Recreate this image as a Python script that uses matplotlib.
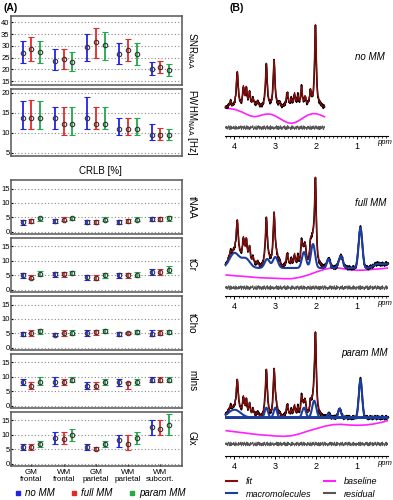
import numpy as np
import matplotlib
matplotlib.use("Agg")
import matplotlib.pyplot as plt
from matplotlib.lines import Line2D

plt.rcParams['font.family'] = ['Liberation Sans', 'DejaVu Sans']

# ---- panel (A): quality measures and CRLBs ----
GROUPS = ['GM\nfrontal', 'WM\nfrontal', 'GM\nparietal', 'WM\nparietal', 'WM\nsubcort.']
SERIES = ['no MM', 'full MM', 'param MM']
COLORS = ['#2323e6', '#e62828', '#23a84a']

# rows: no MM, full MM, param MM ; columns: regions
SNR_MEAN = [[27.1, 23.6, 29.4, 26.6, 20.0], [28.6, 24.3, 31.7, 28.1, 20.9], [27.4, 23.0, 30.4, 26.6, 19.7]]
SNR_LO = [[22.6, 19.7, 23.4, 22.1, 17.4], [23.7, 20.1, 25.0, 23.4, 18.6], [22.6, 19.3, 23.9, 22.0, 17.1]]
SNR_HI = [[31.9, 28.7, 34.9, 31.1, 23.3], [33.6, 28.7, 37.6, 32.9, 23.7], [32.1, 27.3, 35.7, 31.0, 22.3]]

FWHM_MEAN = [[13.7, 13.7, 13.7, 11.0, 9.5], [13.7, 12.3, 12.3, 11.0, 9.5], [13.7, 12.3, 12.3, 11.0, 9.5]]
FWHM_LO = [[10.9, 10.9, 10.9, 9.4, 8.2], [10.9, 9.4, 10.9, 9.4, 8.2], [10.9, 9.4, 10.9, 9.4, 8.2]]
FWHM_HI = [[18.1, 16.5, 19.1, 13.7, 12.2], [18.2, 16.5, 16.5, 13.7, 11.1], [18.1, 16.5, 16.5, 13.7, 11.0]]

TNAA_MEAN = [[3.3, 3.7, 3.3, 3.3, 4.3], [3.7, 4.2, 3.3, 3.7, 4.4], [4.7, 4.8, 4.2, 4.2, 4.7]]
TNAA_LO = [[2.5, 2.9, 2.7, 2.7, 3.6], [2.9, 3.6, 2.7, 2.9, 3.8], [3.8, 4.0, 3.6, 3.6, 3.8]]
TNAA_HI = [[4.0, 4.3, 4.0, 4.0, 5.0], [4.3, 5.0, 4.0, 4.3, 5.0], [5.2, 5.2, 5.0, 5.0, 5.4]]

TCR_MEAN = [[4.9, 5.3, 4.3, 4.9, 6.1], [4.2, 5.3, 4.2, 4.9, 6.0], [5.5, 5.9, 5.0, 5.2, 6.9]]
TCR_LO = [[4.1, 4.4, 3.5, 4.1, 5.1], [3.6, 4.4, 3.5, 4.1, 5.0], [4.7, 5.2, 4.1, 4.3, 5.9]]
TCR_HI = [[5.7, 6.1, 5.0, 5.7, 7.2], [5.2, 6.0, 5.0, 5.7, 7.0], [6.4, 6.5, 5.9, 6.0, 8.0]]

TCHO_MEAN = [[4.8, 4.5, 5.0, 4.9, 4.9], [5.0, 5.0, 5.3, 5.0, 5.2], [5.7, 5.2, 5.9, 5.5, 5.6]]
TCHO_LO = [[4.0, 4.1, 4.0, 4.0, 4.0], [4.0, 4.0, 4.5, 4.7, 4.3], [4.9, 4.4, 5.1, 4.9, 4.9]]
TCHO_HI = [[5.6, 5.1, 6.3, 5.6, 6.3], [6.2, 6.2, 6.2, 5.3, 6.3], [6.4, 6.0, 6.5, 6.0, 6.3]]

MINS_MEAN = [[8.0, 8.1, 6.9, 8.0, 9.0], [6.9, 8.1, 6.9, 7.7, 9.0], [8.1, 9.0, 8.1, 8.1, 9.0]]
MINS_LO = [[7.0, 6.9, 5.9, 6.9, 8.0], [5.9, 7.0, 5.9, 5.9, 8.0], [7.0, 8.0, 7.0, 7.0, 8.0]]
MINS_HI = [[9.1, 10.0, 8.1, 9.1, 10.0], [8.1, 9.2, 8.1, 8.1, 10.0], [10.0, 10.0, 9.1, 9.1, 10.0]]

GLX_MEAN = [[5.9, 9.0, 5.9, 8.0, 12.5], [5.9, 8.4, 5.2, 6.8, 11.9], [6.8, 9.8, 6.9, 8.7, 13.5]]
GLX_LO = [[4.8, 6.9, 4.8, 5.8, 9.9], [4.8, 6.9, 4.8, 4.8, 9.9], [5.8, 7.8, 5.8, 6.9, 9.9]]
GLX_HI = [[6.9, 10.9, 6.9, 9.9, 15.0], [6.9, 11.0, 5.9, 9.9, 15.0], [7.8, 11.8, 7.8, 11.0, 17.1]]

# ---- panel (B): LCModel-style fits, peak tables in arbitrary units ----
METAB_PPM = [4.10, 3.93, 3.78, 3.71, 3.63, 3.54, 3.44, 3.22, 3.03, 2.90, 2.71, 2.61, 2.53, 2.45, 2.36, 2.27, 2.14, 2.02, 1.91]
METAB_AMP = [6, 35, 19, 18, 14, 8, 5, 43, 47, 4, 14, 7, 13, 10, 19, 9, 15, 82, 2]
METAB_HW = [0.022, 0.028, 0.022, 0.022, 0.022, 0.025, 0.028, 0.025, 0.025, 0.022, 0.028, 0.022, 0.022, 0.022, 0.024, 0.022, 0.028, 0.024, 0.02]
METAB_SCALE = [1.0, 0.95, 0.86]  # per fit: no MM, full MM, param MM

FULLMM_PPM = [4.00, 3.72, 3.20, 3.00, 2.30, 2.08, 1.70, 1.40, 0.92, 0.50, 0.25]
FULLMM_AMP = [15, 9, 9, 11, 16, 24, 9, 12, 40, 4, 4]
FULLMM_SD = [0.12, 0.10, 0.06, 0.06, 0.05, 0.05, 0.04, 0.05, 0.045, 0.10, 0.10]

PARAMMM_PPM = [4.00, 3.22, 3.00, 2.30, 2.05, 1.70, 1.43, 0.92]
PARAMMM_AMP = [8, 10, 10, 10, 17, 4, 9, 38]
PARAMMM_SD = [0.15, 0.04, 0.04, 0.045, 0.05, 0.03, 0.035, 0.04]

BASE1_PPM = [4.2, 4.1, 4.0, 3.9, 3.8, 3.7, 3.6, 3.5, 3.4, 3.3, 3.2, 3.1, 3.0, 2.9, 2.8, 2.7, 2.6, 2.5, 2.4, 2.3, 2.2, 2.1, 2.0, 1.9, 1.8]
BASE1 = [27.7, 27.3, 26.7, 25.3, 23.7, 21.7, 20.0, 19.3, 20.0, 21.3, 22.0, 21.7, 20.0, 17.7, 15.3, 13.3, 12.7, 13.7, 16.0, 18.7, 21.0, 22.3, 22.3, 21.0, 19.3]
BASE_PPM = [4.2, 4.0, 3.8, 3.6, 3.4, 3.2, 3.0, 2.8, 2.6, 2.4, 2.2, 2.0, 1.8, 1.6, 1.4, 1.2, 1.0, 0.8, 0.6, 0.4, 0.2]
BASE2 = [21.0, 20.3, 19.7, 19.0, 18.3, 18.0, 17.7, 17.3, 17.3, 18.7, 21.0, 24.0, 26.7, 28.3, 27.7, 26.3, 25.7, 26.0, 26.7, 27.3, 28.3]
BASE3 = [25.3, 24.3, 23.3, 22.3, 21.3, 20.7, 20.0, 19.7, 20.3, 22.3, 25.0, 27.3, 29.7, 31.3, 31.7, 31.0, 30.7, 31.0, 32.0, 33.7, 36.0]

# residual, one digit per 0.01 ppm from 4.22 downwards
RESID_DIGITS = (
    "4737261958304917265382619407355182736490274816395063918274051837465920472619503839581726407261839504"
    "5829163740917263840526374918508163927405374829160571928364504819263750263817495061738294059281736450"
    "3847261950618273940549273618507318264950284917365051638294708274619350391827465062847193501738264950"
    "739281645048291736502746381950916382745052837491603718294650816273945049273816507381924650284916375"
)

ppm = np.round(np.arange(4.22, 0.235, -0.01), 2)
resid = (np.array([int(c) for c in RESID_DIGITS[:len(ppm)]]) - 4.5) * 0.45


def gauss(x, centers, amps, sds):
    out = np.zeros_like(x)
    for c, a, s in zip(centers, amps, sds):
        out += a * np.exp(-0.5 * ((x - c) / s) ** 2)
    return out


def lorentz(x, centers, amps, hws):
    out = np.zeros_like(x)
    for c, a, g in zip(centers, amps, hws):
        out += a / (1 + ((x - c) / g) ** 2)
    return out


fig = plt.figure(figsize=(3.93, 5.0), dpi=100)
W, H = 393.0, 500.0


def px_axes(x0, y0, x1, y1):
    return fig.add_axes([x0 / W, 1 - y1 / H, (x1 - x0) / W, (y1 - y0) / H])


panels = [
    ('SNR$_{\\mathrm{NAA}}$', SNR_MEAN, SNR_LO, SNR_HI, (13.3, 42.7), [15, 20, 25, 30, 35, 40], (16, 85)),
    ('FWHM$_{\\mathrm{NAA}}$ [Hz]', FWHM_MEAN, FWHM_LO, FWHM_HI, (4.2, 21), [5, 10, 15, 20], (89, 156)),
    ('tNAA', TNAA_MEAN, TNAA_LO, TNAA_HI, (-0.8, 18), [0, 5, 10, 15], (180, 234)),
    ('tCr', TCR_MEAN, TCR_LO, TCR_HI, (-0.8, 18), [0, 5, 10, 15], (237.5, 292)),
    ('tCho', TCHO_MEAN, TCHO_LO, TCHO_HI, (-0.8, 18), [0, 5, 10, 15], (296, 350)),
    ('mIns', MINS_MEAN, MINS_LO, MINS_HI, (-0.8, 18), [0, 5, 10, 15], (353.5, 408)),
    ('Glx', GLX_MEAN, GLX_LO, GLX_HI, (-0.8, 18), [0, 5, 10, 15], (411.5, 466)),
]

xg = np.arange(1, len(GROUPS) + 1)
offsets = [-0.27, 0.0, 0.27]

for i, (label, mean, lo, hi, ylim, yticks, (ytop, ybot)) in enumerate(panels):
    ax = px_axes(11, ytop, 182, ybot)
    for k in range(3):
        m = np.array(mean[k])
        err = [m - np.array(lo[k]), np.array(hi[k]) - m]
        ax.errorbar(xg + offsets[k], m, yerr=err, fmt='o', color=COLORS[k], ecolor=COLORS[k],
                    elinewidth=1.3, capsize=2.0, capthick=1.0, ms=3.2, mfc='none',
                    mec='#333333', mew=0.8, zorder=3)
    ax.set_xlim(0.37, 5.67)
    ax.set_ylim(*ylim)
    ax.set_yticks(yticks)
    ax.yaxis.grid(True, linestyle=(0, (1, 2)), color='#888888', linewidth=0.8)
    ax.tick_params(axis='y', labelsize=5.5, length=1.5, direction='in', pad=1)
    if i == len(panels) - 1:
        ax.set_xticks(xg)
        ax.set_xticklabels(GROUPS, fontsize=5.8, linespacing=1.0)
        ax.tick_params(axis='x', length=1.5, direction='in', pad=2)
    else:
        ax.set_xticks([])
    for sp in ax.spines.values():
        sp.set_color('#555555')
        sp.set_linewidth(1.1)
    ax.text(1.058, 0.5, label, rotation=-90, transform=ax.transAxes, ha='center', va='center', fontsize=7)

fig.text(100 / W, 1 - 171 / H, 'CRLB [%]', ha='center', va='center', fontsize=7)
fig.text(3 / W, 1 - 8 / H, '(A)', ha='left', va='center', fontsize=7.5, fontweight='bold')
fig.text(230 / W, 1 - 8 / H, '(B)', ha='left', va='center', fontsize=7.5, fontweight='bold')

handles = [Line2D([], [], marker='s', ls='none', color=c, ms=3) for c in COLORS]
fig.legend(handles, SERIES, loc='center', bbox_to_anchor=(100 / W, 1 - 493 / H), ncol=3, frameon=False,
           prop={'style': 'italic', 'size': 7}, handlelength=0.8, handletextpad=0.3, columnspacing=1.6)

# ---- panel (B) ----
C_DATA, C_FIT, C_MM, C_BASE, C_RES = 'black', '#8b0a0a', '#1c3d9e', '#ff1fff', '#555555'

spec = [
    ('no MM', (10, 136), 28.0, 8.3, 0.627, 0.89),
    ('full MM', (166, 296), 28.0, 8.3, 0.713, 0.89),
    ('param MM', (326, 456), 38.3, 12.0, 0.79, 0.857),
]

for j, (name, (ytop, ybot), floor, rlev, ty, tx) in enumerate(spec):
    ax = px_axes(225, ytop, 388.3, ybot)
    ax.set_xlim(4.23, 0.24)
    ax.set_ylim(0, ybot - ytop)
    met = METAB_SCALE[j] * lorentz(ppm, METAB_PPM, METAB_AMP, METAB_HW)
    if j == 0:
        sel = ppm >= 1.8
        fit = floor + met
        ax.plot(BASE1_PPM, BASE1, color=C_BASE, lw=1.2)
    elif j == 1:
        sel = np.ones_like(ppm, dtype=bool)
        mm = floor + gauss(ppm, FULLMM_PPM, FULLMM_AMP, FULLMM_SD)
        fit = mm + met
        ax.plot(BASE_PPM, BASE2, color=C_BASE, lw=1.2)
    else:
        sel = np.ones_like(ppm, dtype=bool)
        mmsum = gauss(ppm, PARAMMM_PPM, PARAMMM_AMP, PARAMMM_SD)
        fit = floor + mmsum + met
        ax.plot(BASE_PPM, BASE3, color=C_BASE, lw=1.2)
    data = fit + resid
    ax.plot(ppm[sel], data[sel], color=C_DATA, lw=1.2, zorder=2, clip_on=False)
    ax.plot(ppm[sel], fit[sel], color=C_FIT, lw=0.9, zorder=3, clip_on=False)
    if j == 1:
        ax.plot(ppm, mm, color=C_MM, lw=1.5, zorder=4)
    if j == 2:
        for c, a, s in zip(PARAMMM_PPM, PARAMMM_AMP, PARAMMM_SD):
            ax.plot(ppm, floor + gauss(ppm, [c], [a], [s]), color=C_MM, lw=1.5, zorder=4)
    ax.plot(ppm[sel], rlev + resid[sel], color=C_RES, lw=0.6)

    for side in ['left', 'right', 'top']:
        ax.spines[side].set_visible(False)
    ax.spines['bottom'].set_linewidth(0.8)
    ax.set_yticks([])
    ax.set_xticks([4, 3, 2, 1])
    ax.set_xticks(np.arange(0.3, 4.25, 0.1), minor=True)
    ax.tick_params(axis='x', labelsize=6.5, length=2.5, width=0.7, direction='out', pad=1.5)
    ax.tick_params(axis='x', which='minor', length=1.5, width=0.5)
    ax.text(0.975, -0.055, 'ppm', transform=ax.transAxes, ha='center', va='center', fontsize=5.5, style='italic')
    ax.text(tx, ty, name, transform=ax.transAxes, ha='center', va='center', fontsize=7, style='italic')

lh = [Line2D([], [], color=C_FIT, lw=1.5), Line2D([], [], color=C_MM, lw=1.5),
      Line2D([], [], color=C_BASE, lw=1.5), Line2D([], [], color=C_RES, lw=1.5)]
fig.legend(lh, ['fit', 'macromolecules', 'baseline', 'residual'], loc='center', ncol=2,
           bbox_to_anchor=(302 / W, 1 - 488 / H), frameon=False, prop={'style': 'italic', 'size': 6.5},
           handlelength=1.2, handletextpad=1.0, columnspacing=1.4, labelspacing=0.35)

fig.savefig('out.png', dpi=100)
